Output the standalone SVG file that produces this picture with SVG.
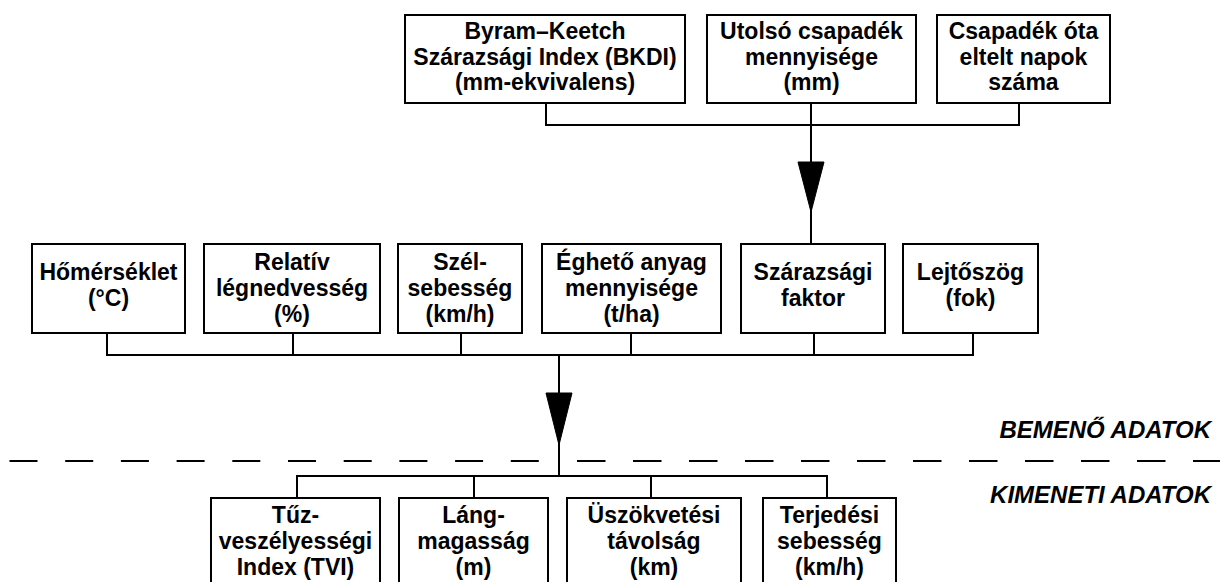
<svg xmlns="http://www.w3.org/2000/svg" width="1220" height="582" viewBox="0 0 1220 582">
<style>
rect.box{fill:#fff;stroke:#000;stroke-width:2}
text{font-family:"Liberation Sans",Arial,sans-serif;font-weight:bold;font-size:23px;fill:#000;text-anchor:middle}
text.lbl{font-style:italic;text-anchor:end;font-size:24px}
.ln{fill:none;stroke:#000;stroke-width:2}
.dash{fill:none;stroke:#000;stroke-width:2;stroke-dasharray:28 27.7}
.arr{fill:#000;stroke:#000;stroke-width:1}
</style>
<rect width="1220" height="582" fill="#fff"/>
<g id="connectors">
<polyline class="ln" points="546,103 546,125 1019,125 1019,103"/>
<line class="ln" x1="811" y1="103" x2="811" y2="244"/>
<polygon class="arr" points="798,162 824,162 811,212"/>
<polyline class="ln" points="107,333 107,355 973,355 973,333"/>
<line class="ln" x1="293" y1="333" x2="293" y2="355"/>
<line class="ln" x1="461" y1="333" x2="461" y2="355"/>
<line class="ln" x1="631" y1="333" x2="631" y2="355"/>
<line class="ln" x1="814" y1="333" x2="814" y2="355"/>
<line class="ln" x1="559" y1="355" x2="559" y2="476"/>
<polygon class="arr" points="546,393 572,393 559,445"/>
<polyline class="ln" points="297,498 297,476 827,476 827,498"/>
<line class="ln" x1="474" y1="476" x2="474" y2="498"/>
<line class="ln" x1="651" y1="476" x2="651" y2="498"/>
</g>
<g id="divider">
<line class="dash" x1="9.5" y1="461" x2="559" y2="461"/>
<line class="dash" x1="577" y1="461" x2="1220" y2="461" style="stroke-dasharray:28.5 27.5"/>
<text class="lbl" x="1211" y="438">BEMENŐ ADATOK</text>
<text class="lbl" x="1211" y="503">KIMENETI ADATOK</text>
</g>
<g id="bkdi"><rect class="box" x="405" y="15" width="280" height="88"/>
<text x="545" y="39">Byram–Keetch</text><text x="545" y="64.5">Szárazsági Index (BKDI)</text><text x="545" y="90">(mm-ekvivalens)</text></g>
<g id="utolso"><rect class="box" x="707" y="15" width="209" height="88"/>
<text x="811.5" y="39">Utolsó csapadék</text><text x="811.5" y="64.5">mennyisége</text><text x="811.5" y="90">(mm)</text></g>
<g id="csapadek-ota"><rect class="box" x="937" y="15" width="173" height="88"/>
<text x="1023.5" y="39">Csapadék óta</text><text x="1023.5" y="64.5">eltelt napok</text><text x="1023.5" y="90">száma</text></g>
<g id="homerseklet"><rect class="box" x="32" y="244" width="153" height="89"/>
<text x="108.5" y="280">Hőmérséklet</text><text x="108.5" y="306">(°C)</text></g>
<g id="relativ"><rect class="box" x="204" y="244" width="176" height="89"/>
<text x="292" y="270">Relatív</text><text x="292" y="296">légnedvesség</text><text x="292" y="322">(%)</text></g>
<g id="szel"><rect class="box" x="398" y="244" width="124" height="89"/>
<text x="460" y="270">Szél-</text><text x="460" y="296">sebesség</text><text x="460" y="322">(km/h)</text></g>
<g id="eghető"><rect class="box" x="542" y="244" width="179" height="89"/>
<text x="631.5" y="270">Éghető anyag</text><text x="631.5" y="296">mennyisége</text><text x="631.5" y="322">(t/ha)</text></g>
<g id="szarazsagi"><rect class="box" x="741" y="244" width="144" height="89"/>
<text x="813" y="280">Szárazsági</text><text x="813" y="306">faktor</text></g>
<g id="lejtoszog"><rect class="box" x="903" y="244" width="135" height="89"/>
<text x="970.5" y="280">Lejtőszög</text><text x="970.5" y="306">(fok)</text></g>
<g id="tvi"><rect class="box" x="211" y="498" width="169" height="100"/>
<text x="295.5" y="523">Tűz-</text><text x="295.5" y="549">veszélyességi</text><text x="295.5" y="575">Index (TVI)</text></g>
<g id="lang"><rect class="box" x="399" y="498" width="149" height="100"/>
<text x="473.5" y="523">Láng-</text><text x="473.5" y="549">magasság</text><text x="473.5" y="575">(m)</text></g>
<g id="uszok"><rect class="box" x="567" y="498" width="174" height="100"/>
<text x="654" y="523">Üszökvetési</text><text x="654" y="549">távolság</text><text x="654" y="575">(km)</text></g>
<g id="terjedesi"><rect class="box" x="763" y="498" width="133" height="100"/>
<text x="829.5" y="523">Terjedési</text><text x="829.5" y="549">sebesség</text><text x="829.5" y="575">(km/h)</text></g>
</svg>
